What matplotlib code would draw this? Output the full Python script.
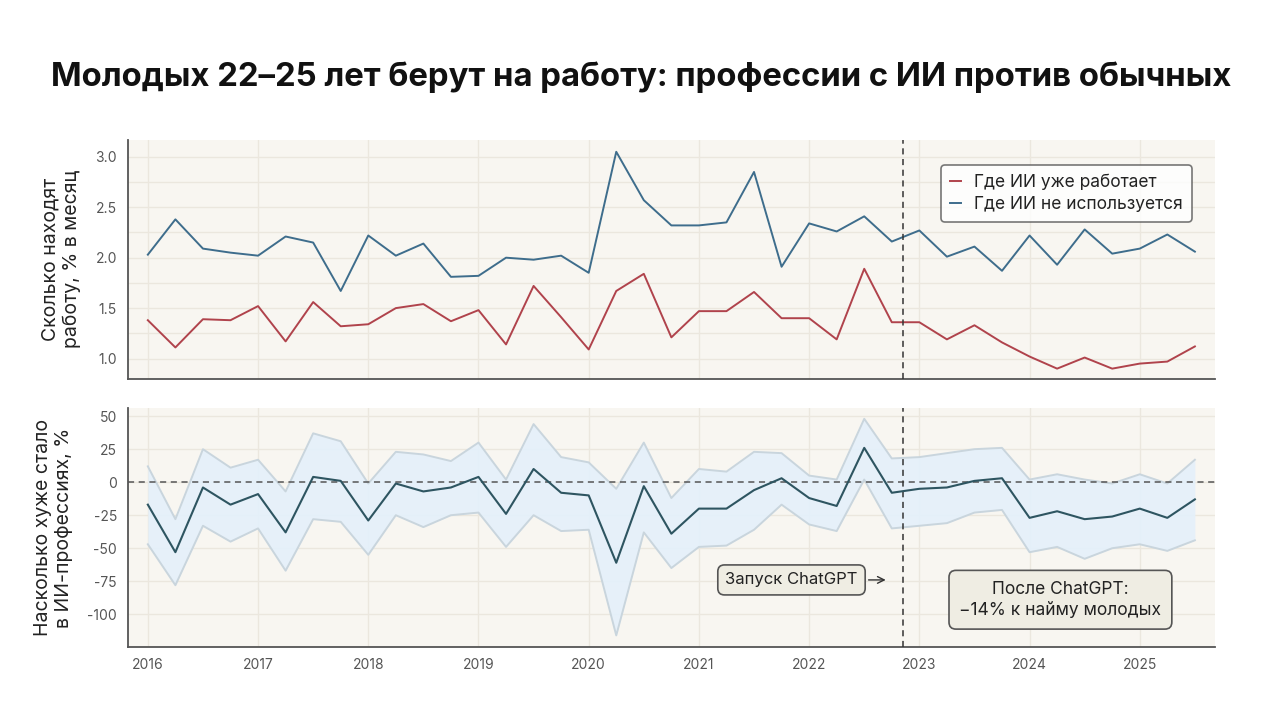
import numpy as np
import matplotlib
matplotlib.use("Agg")
import matplotlib.pyplot as plt

plt.rcParams['font.family'] = ['Inter', 'DejaVu Sans']
plt.rcParams['axes.unicode_minus'] = False

# quarterly data, 2016 Q1 .. 2025 Q3
quarters = np.arange(2016, 2025.51, 0.25)

ai_jobs = [1.38, 1.11, 1.39, 1.38, 1.52, 1.17, 1.56, 1.32, 1.34, 1.50,
           1.54, 1.37, 1.48, 1.14, 1.72, 1.41, 1.09, 1.67, 1.84, 1.21,
           1.47, 1.47, 1.66, 1.40, 1.40, 1.19, 1.89, 1.36, 1.36, 1.19,
           1.33, 1.16, 1.02, 0.90, 1.01, 0.90, 0.95, 0.97, 1.12]
other_jobs = [2.03, 2.38, 2.09, 2.05, 2.02, 2.21, 2.15, 1.67, 2.22, 2.02,
              2.14, 1.81, 1.82, 2.00, 1.98, 2.02, 1.85, 3.05, 2.57, 2.32,
              2.32, 2.35, 2.85, 1.91, 2.34, 2.26, 2.41, 2.16, 2.27, 2.01,
              2.11, 1.87, 2.22, 1.93, 2.28, 2.04, 2.09, 2.23, 2.06]

gap = [-17, -53, -4, -17, -9, -38, 4, 1, -29, -1,
       -7, -4, 4, -24, 10, -8, -10, -61, -3, -39,
       -20, -20, -6, 3, -12, -18, 26, -8, -5, -4,
       1, 3, -27, -22, -28, -26, -20, -27, -13]
gap_hi = [12, -28, 25, 11, 17, -7, 37, 31, -1, 23,
          21, 16, 30, 2, 44, 19, 15, -5, 30, -12,
          10, 8, 23, 22, 5, 2, 48, 18, 19, 22,
          25, 26, 2, 6, 2, -1, 6, -1, 17]
gap_lo = [-47, -78, -33, -45, -35, -67, -28, -30, -55, -25,
          -34, -25, -23, -49, -25, -37, -36, -116, -38, -65,
          -49, -48, -36, -17, -32, -37, 2, -35, -33, -31,
          -23, -21, -53, -49, -58, -50, -47, -52, -44]

years = list(range(2016, 2026))
chatgpt = 2022.85

bg = '#f8f6f1'
grid_c = '#ebe7de'
red = '#b0434c'
blue = '#3e6d8c'
teal = '#2e5561'

fig = plt.figure(figsize=(12.8, 7.2), dpi=100)
fig.patch.set_facecolor('white')

ax1 = fig.add_axes([0.1, 0.474, 0.849, 0.332])
ax2 = fig.add_axes([0.1, 0.101, 0.849, 0.332])

for ax in (ax1, ax2):
    ax.set_facecolor(bg)
    ax.set_xlim(2015.82, 2025.68)
    ax.set_xticks(years)
    ax.grid(True, color=grid_c, lw=1.0)
    ax.set_axisbelow(True)
    for s in ('top', 'right'):
        ax.spines[s].set_visible(False)
    for s in ('left', 'bottom'):
        ax.spines[s].set_color('#555555')
        ax.spines[s].set_linewidth(1.3)
    ax.tick_params(length=0, labelsize=10, labelcolor='#555555', pad=8)
    ax.axvline(chatgpt, color='#333333', lw=1.1, ls=(0, (4, 3)), zorder=4)

# top panel
ax1.plot(quarters, ai_jobs, color=red, lw=1.4, label='Где ИИ уже работает')
ax1.plot(quarters, other_jobs, color=blue, lw=1.4, label='Где ИИ не используется')
ax1.set_ylim(0.8, 3.17)
ax1.set_yticks([1.0, 1.5, 2.0, 2.5, 3.0])
ax1.set_yticks(np.arange(1.0, 3.01, 0.25), minor=True)
ax1.grid(True, which='minor', axis='y', color=grid_c, lw=1.0)
ax1.tick_params(which='minor', length=0)
ax1.set_xticklabels([])
ax1.set_ylabel('Сколько находят\nработу, % в месяц', fontsize=14, color='#222222', labelpad=10)
leg = ax1.legend(loc='upper right', bbox_to_anchor=(0.987, 0.93), fontsize=12.5,
                 handlelength=0.6, handletextpad=0.8, frameon=True, fancybox=True,
                 borderpad=0.5, labelspacing=0.3)
leg.get_frame().set_edgecolor('#555555')
leg.get_frame().set_facecolor('white')
leg.get_frame().set_linewidth(1.2)
for t in leg.get_texts():
    t.set_color('#222222')

# bottom panel
ax2.fill_between(quarters, gap_lo, gap_hi, color='#e4f0fb', alpha=0.9, lw=0, zorder=2)
ax2.plot(quarters, gap_hi, color='#c9d5dd', lw=1.4, zorder=3)
ax2.plot(quarters, gap_lo, color='#c9d5dd', lw=1.4, zorder=3)
ax2.axhline(0, color='#555555', lw=1.1, ls=(0, (4, 3)), zorder=3)
ax2.plot(quarters, gap, color=teal, lw=1.5, zorder=5)
ax2.set_ylim(-125, 56)
ax2.set_yticks([50, 25, 0, -25, -50, -75, -100])
ax2.set_xticklabels([str(y) for y in years])
ax2.set_ylabel('Насколько хуже стало\nв ИИ-профессиях, %', fontsize=14, color='#222222', labelpad=10)

box = dict(boxstyle='round,pad=0.45,rounding_size=0.4', facecolor='#efede3',
           edgecolor='#555555', lw=1.2)
ax2.annotate('Запуск ChatGPT', xy=(2022.72, -74), xytext=(2021.84, -74),
             ha='center', va='center', fontsize=12, color='#222222', bbox=box,
             arrowprops=dict(arrowstyle='->', color='#333333', lw=1.0), zorder=6)
ax2.text(2024.28, -89, 'После ChatGPT:\n\u221214% к найму молодых', ha='center', va='center',
         fontsize=12.5, color='#222222', linespacing=1.3,
         bbox=dict(boxstyle='round,pad=0.6,rounding_size=0.4', facecolor='#efede3',
                   edgecolor='#555555', lw=1.2), zorder=6)

fig.text(0.04, 0.893, 'Молодых 22–25 лет берут на работу: профессии с ИИ против обычных',
         fontsize=23.7, fontweight='bold', color='#111111', va='center', ha='left')

fig.savefig('out.png', dpi=100, facecolor='white')
